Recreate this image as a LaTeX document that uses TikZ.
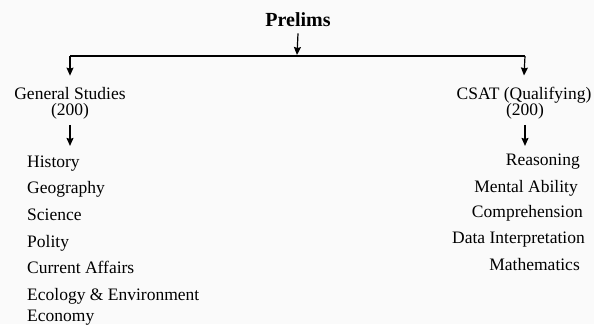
\documentclass[tikz,border=0pt]{standalone}
\usepackage{fontspec}
\setmainfont{Liberation Serif}
\usetikzlibrary{arrows.meta}
\begin{document}
\begin{tikzpicture}[x=1pt,y=-1pt,
 txt/.style={inner sep=0pt,font=\fontsize{17.5}{20}\selectfont},
 arr/.style={line width=1.2pt,-{Stealth[length=8pt,width=7pt,inset=1pt]}},
 ln/.style={line width=1.2pt}]
\fill[white!98!black] (0,0) rectangle (594,324);
\useasboundingbox (0,0) rectangle (594,324);
\node[txt,font=\fontsize{20}{24}\selectfont\bfseries,anchor=base] (prelims) at (298,26) {Prelims};
\coordinate (junc) at (297,55);
\coordinate (lc) at (70,56);
\coordinate (rc) at (525,56);
\node[txt,anchor=base] (gs) at (70,99) {General Studies};
\node[txt,anchor=base] (gs2) at (70,115) {(200)};
\node[txt,anchor=base] (cs) at (524,99) {CSAT (Qualifying)};
\node[txt,anchor=base] (cs2) at (525,115) {(200)};
\draw[arr] ([yshift=-7pt]prelims.south) -- (junc);
\draw[ln] (lc) -- (rc);
\draw[arr] (lc) -- ([yshift=11pt]gs.north);
\draw[arr] (rc) -- ([yshift=11pt]cs.north);
\draw[arr] ([yshift=-6pt]gs2.south) -- ([yshift=-27pt]gs2.south);
\draw[arr] ([yshift=-6pt]cs2.south) -- ([yshift=-27pt]cs2.south);
\node[txt,anchor=base west] (h) at (27,167) {History};
\node[txt,anchor=base west] (g) at (27,193) {Geography};
\node[txt,anchor=base west] (s) at (27,220) {Science};
\node[txt,anchor=base west] (p) at (27,247) {Polity};
\node[txt,anchor=base west] (ca) at (27,273) {Current Affairs};
\node[txt,anchor=base west] (ee) at (27,300) {Ecology \& Environment};
\node[txt,anchor=base west] (ec) at (27,321) {Economy};
\node[txt,anchor=base east] (r) at (580,165) {Reasoning};
\node[txt,anchor=base east] (ma) at (578,192) {Mental Ability};
\node[txt,anchor=base east] (co) at (583,217) {Comprehension};
\node[txt,anchor=base east] (di) at (585,243) {Data Interpretation};
\node[txt,anchor=base east] (mt) at (580,270) {Mathematics};
\end{tikzpicture}
\end{document}
